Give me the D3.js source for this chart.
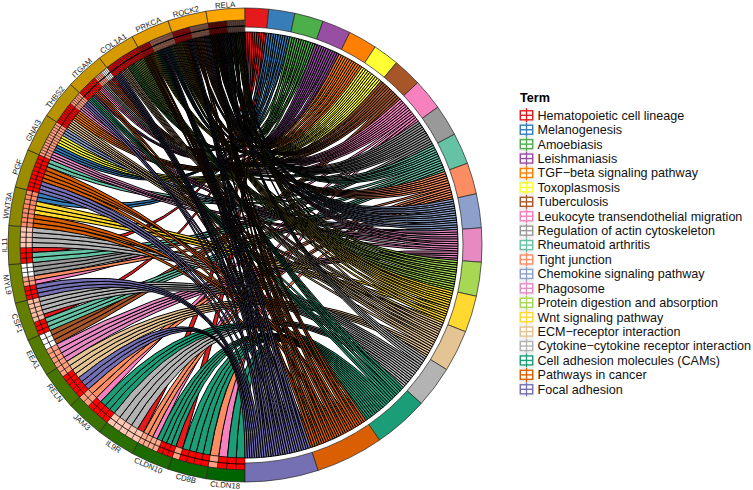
<!DOCTYPE html>
<html>
<head>
<meta charset="utf-8">
<script src="https://cdn.jsdelivr.net/npm/d3@7"></script>
<style>
  body { margin: 0; background: #fff; }
  text { font-family: "Liberation Sans", Arial, sans-serif; }
</style>
</head>
<body>
<script>
var termNames = ["Hematopoietic cell lineage", "Melanogenesis", "Amoebiasis", "Leishmaniasis",
  "TGF\u2212beta signaling pathway", "Toxoplasmosis", "Tuberculosis", "Leukocyte transendothelial migration",
  "Regulation of actin cytoskeleton", "Rheumatoid arthritis", "Tight junction", "Chemokine signaling pathway",
  "Phagosome", "Protein digestion and absorption", "Wnt signaling pathway", "ECM\u2212receptor interaction",
  "Cytokine\u2212cytokine receptor interaction", "Cell adhesion molecules (CAMs)", "Pathways in cancer", "Focal adhesion"];
var termColors = ["#E41A1C", "#377EB8", "#4DAF4A", "#984EA3", "#FF7F00", "#FFFF33", "#A65628", "#F781BF", "#999999",
  "#66C2A5", "#FC8D62", "#8DA0CB", "#E78AC3", "#A6D854", "#FFD92F", "#E5C494", "#B3B3B3", "#1B9E77", "#D95F02", "#7570B3"];
// genes run clockwise from the bottom of the circle
var genes = ["CLDN18", "CD8B", "CLDN10", "IL9R", "JAM3", "RELN", "EEA1", "CSF1", "MYL9", "IL11",
  "WNT3A", "PGF", "GNAI3", "THBS2", "ITGAM", "COL1A1", "PRKCA", "ROCK2", "RELA"];
// [term index, how many links] in the order they leave each gene
var geneLinks = [
  [[17,2],[7,1],[10,1]],
  [[17,4],[0,1]],
  [[17,4],[7,1],[10,2]],
  [[0,1],[16,4]],
  [[17,3],[7,1],[10,2]],
  [[19,3],[15,4]],
  [[12,4],[6,3]],
  [[9,3],[0,1],[16,4]],
  [[19,3],[7,1],[10,1],[8,3]],
  [[9,2],[0,1],[16,4]],
  [[18,3],[14,3],[1,2]],
  [[19,3],[18,4],[9,2]],
  [[12,3],[1,3],[5,4],[11,3]],
  [[15,5],[4,5],[12,3],[19,3]],
  [[17,4],[3,2],[18,3],[7,3],[8,3],[6,4],[0,2]],
  [[19,6],[15,6],[2,6],[13,8]],
  [[18,8],[5,6],[17,4],[19,5],[1,5],[13,3],[7,3]],
  [[14,6],[4,6],[19,5],[8,3],[18,3],[10,6],[7,2],[11,5]],
  [[18,5],[8,3],[6,4],[3,9],[16,4],[9,5],[0,3],[12,3],[15,1],[2,5],[13,2],[14,5],[11,5]]
];
// [logFC, how many cells] per gene, same order as the links
var geneLogFC = [
  [[1,3],[.5,1]],
  [[1,4],[.5,1]],
  [[1,3],[.45,4]],
  [[.3,5]],
  [[1,4],[.5,2]],
  [[1,5],[.5,2]],
  [[.5,4],[0,3]],
  [[1,3],[.35,5]],
  [[1,3],[.5,2],[0,3]],
  [[1,3],[.3,4]],
  [[.6,8]],
  [[1,9]],
  [[.5,13]],
  [[1,10],[.5,6]],
  [[1,12],[.5,5],[0,4]],
  [[1,26]],
  [[1,12],[.5,22]],
  [[1,18],[.5,18]],
  [[1,28],[.4,26]]
];

var cx = 245, cy = 245;
var rOuter = 237, rGene = 225, rTerm = 218, rRibbon = 213;
var firstBusyGene = 10; // from WNT3A upward the links land scattered along a term

var expand = function (runs) {
  var out = [];
  runs.forEach(function (r) { d3.range(r[1]).forEach(function () { out.push(r[0]); }); });
  return out;
};

var svg = d3.select("body").append("svg").attr("width", 753).attr("height", 490);
var g = svg.append("g").attr("transform", "translate(" + cx + "," + cy + ")");

// scales: right half holds the terms, left half the genes
var links = geneLinks.map(expand);
var total = d3.sum(links, function (l) { return l.length; });
var termCounts = termNames.map(function (t, i) {
  return d3.sum(links, function (l) { return l.filter(function (v) { return v === i; }).length; });
});
var termStart = d3.cumsum([0].concat(termCounts));
var termAngle = d3.scaleLinear().domain([0, total]).range([0, Math.PI]);
var geneAngle = d3.scaleBand().domain(genes).range([Math.PI, 2 * Math.PI]);
var geneColor = d3.scaleLinear().domain([0, genes.length - 1]).range(["darkgreen", "orange"]);
var fcColor = d3.scaleLinear().domain([0, 1]).range(["white", "red"]).interpolate(d3.interpolateLab);

// one record per link
var ribbons = [], cells = [];
links.forEach(function (l, gi) {
  var a0 = geneAngle(genes[gi]), w = geneAngle.bandwidth() / l.length;
  var fc = expand(geneLogFC[gi]);
  l.forEach(function (t, k) {
    ribbons.push({
      term: t,
      gene: gi,
      source: { startAngle: a0 + k * w, endAngle: a0 + (k + 1) * w, radius: rRibbon }
    });
    cells.push({ startAngle: a0 + k * w, endAngle: a0 + (k + 1) * w, fc: fc[k] });
  });
});

// term slots: quiet genes take the far end in order, busy genes are spread over the rest
termNames.forEach(function (t, i) {
  var mine = ribbons.filter(function (r) { return r.term === i; });
  var quiet = mine.filter(function (r) { return r.gene < firstBusyGene; });
  var busy = mine.filter(function (r) { return r.gene >= firstBusyGene; });
  var stride = Math.max(1, Math.round(busy.length * 0.382));
  while (busy.length && d3.range(2, stride + 1).some(function (p) { return stride % p === 0 && busy.length % p === 0; })) stride += 1;
  var order = quiet.slice();
  var placed = busy.map(function (r, k) { return busy[(k * stride) % busy.length]; });
  order = order.concat(placed);
  order.forEach(function (r, k) {
    var pos = termStart[i + 1] - 1 - k;
    r.target = { startAngle: termAngle(pos), endAngle: termAngle(pos + 1), radius: rRibbon };
  });
});
ribbons.sort(function (a, b) { return a.term - b.term; });

// ribbons
g.selectAll("path.rib").data(ribbons).enter().append("path")
  .attr("class", "rib")
  .attr("d", d3.ribbon())
  .attr("fill", function (d) { return termColors[d.term]; })
  .attr("stroke", "black")
  .attr("stroke-width", 1);

// logFC cells
var cellArc = d3.arc().innerRadius(rRibbon).outerRadius(rGene);
g.selectAll("path.cell").data(cells).enter().append("path")
  .attr("class", "cell")
  .attr("d", cellArc)
  .attr("fill", function (d) { return fcColor(d.fc); })
  .attr("stroke", "black")
  .attr("stroke-width", 0.5);

// dotted line through the middle of the cells
var midR = (rRibbon + rGene) / 2;
var midArc = d3.arc().innerRadius(midR).outerRadius(midR);
g.selectAll("path.mid").data(genes).enter().append("path")
  .attr("class", "mid")
  .attr("d", function (d) {
    return midArc({ startAngle: geneAngle(d), endAngle: geneAngle(d) + geneAngle.bandwidth() });
  })
  .attr("fill", "none")
  .attr("stroke", "black")
  .attr("stroke-width", 1)
  .attr("stroke-dasharray", function (d, i) {
    var w = geneAngle.bandwidth() * midR / links[i].length;
    return w < 2 ? null : w / 4 + " " + w / 4;
  });

// gene ring
var geneArc = d3.arc().innerRadius(rGene).outerRadius(rOuter);
g.selectAll("path.gene").data(genes).enter().append("path")
  .attr("class", "gene")
  .attr("d", function (d) {
    return geneArc({ startAngle: geneAngle(d), endAngle: geneAngle(d) + geneAngle.bandwidth() });
  })
  .attr("fill", function (d, i) { return geneColor(i); })
  .attr("stroke", "#222")
  .attr("stroke-width", 0.7);

// term ring
var termArc = d3.arc().innerRadius(rTerm).outerRadius(rOuter);
g.selectAll("path.term").data(termNames).enter().append("path")
  .attr("class", "term")
  .attr("d", function (d, i) {
    return termArc({ startAngle: termAngle(termStart[i]), endAngle: termAngle(termStart[i + 1]) });
  })
  .attr("fill", function (d, i) { return termColors[i]; })
  .attr("stroke", "#222")
  .attr("stroke-width", 0.7);

// gene labels, kept readable on either side of 270 degrees
g.selectAll("text.gene").data(genes).enter().append("text")
  .attr("class", "gene")
  .attr("transform", function (d) {
    var a = geneAngle(d) + geneAngle.bandwidth() / 2;
    var deg = a * 180 / Math.PI;
    var rot = deg < 270 ? deg - 180 : deg;
    return "rotate(" + deg + ")translate(0," + (-240.8) + ")rotate(" + (rot - deg) + ")";
  })
  .attr("text-anchor", "middle")
  .attr("dy", "0.35em")
  .style("font-size", "7.8px")
  .attr("fill", "#222")
  .text(function (d) { return d; });

// legend
var legendX = 520, legendY = 115.3, rowH = 14.42, keyW = 14.4;
var legend = svg.append("g");
legend.append("text")
  .attr("x", legendX)
  .attr("y", 101.5)
  .style("font-size", "12.6px")
  .style("font-weight", "bold")
  .attr("fill", "black")
  .text("Term");
var row = legend.selectAll("g.row").data(termNames).enter().append("g")
  .attr("class", "row")
  .attr("transform", function (d, i) { return "translate(" + legendX + "," + (legendY + i * rowH) + ")"; });
row.append("rect")
  .attr("x", -0.7).attr("y", -rowH / 2).attr("width", keyW).attr("height", rowH)
  .attr("fill", "#f0f0f0");
row.append("line")
  .attr("x1", 6.5).attr("x2", 6.5).attr("y1", -7).attr("y2", 7)
  .attr("stroke", function (d, i) { return termColors[i]; }).attr("stroke-width", 1.3);
row.append("rect")
  .attr("x", 0.3).attr("y", -4.5).attr("width", 12.4).attr("height", 9)
  .attr("fill", "white")
  .attr("stroke", function (d, i) { return termColors[i]; }).attr("stroke-width", 1.4);
row.append("line")
  .attr("x1", 0.3).attr("x2", 12.7).attr("y1", 0).attr("y2", 0)
  .attr("stroke", function (d, i) { return termColors[i]; }).attr("stroke-width", 1.4);
row.append("line")
  .attr("x1", 6.5).attr("x2", 6.5).attr("y1", -4.5).attr("y2", 4.5)
  .attr("stroke", function (d, i) { return termColors[i]; }).attr("stroke-width", 1.3);
row.append("text")
  .attr("x", 17.5)
  .attr("dy", "0.35em")
  .style("font-size", "12.58px")
  .attr("fill", "#111")
  .text(function (d) { return d; });
</script>
</body>
</html>
